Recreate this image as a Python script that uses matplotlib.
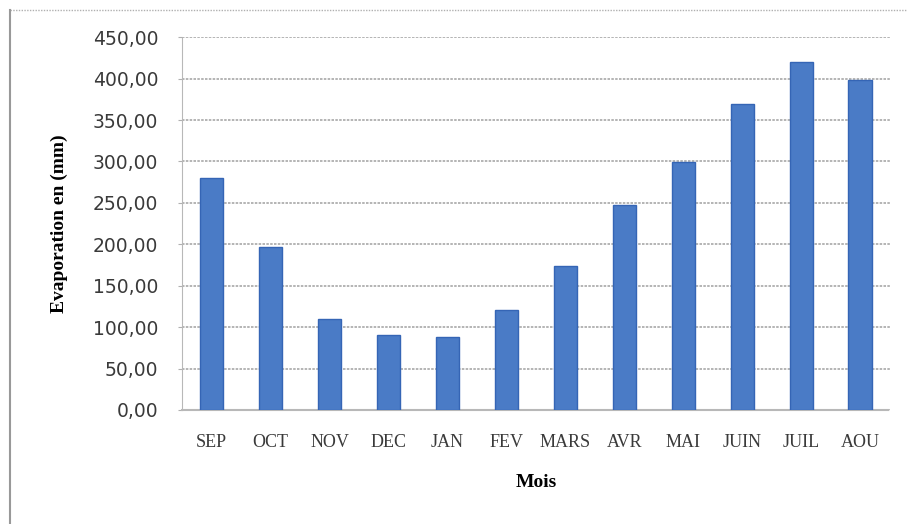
import matplotlib
matplotlib.use('Agg')
import matplotlib.pyplot as plt
from matplotlib.lines import Line2D

months = ['SEP', 'OCT', 'NOV', 'DEC', 'JAN', 'FEV', 'MARS', 'AVR', 'MAI', 'JUIN', 'JUIL', 'AOU']
evaporation = [280, 197, 110, 90, 88, 121, 174, 248, 299, 369, 420, 398]
yticks = [0, 50, 100, 150, 200, 250, 300, 350, 400, 450]

plt.rcParams['font.family'] = ['Liberation Serif', 'DejaVu Serif']

fig = plt.figure(figsize=(9.07, 5.24), dpi=100)
ax = fig.add_axes([0.2007, 0.2176, 0.7803, 0.7114])

x = range(len(months))
ax.bar(x, evaporation, width=0.4, color='#4a7bc6', edgecolor='#3565b5', linewidth=1.0, zorder=3)

ax.set_xlim(-0.5, len(months) - 0.5)
ax.set_ylim(0, 450)
ax.set_yticks(yticks)
ax.set_yticklabels(['%d,00' % v for v in yticks], fontsize=13.5, color='#3a3a3a',
                   family='DejaVu Sans')
ax.set_xticks(list(x))
ax.set_xticklabels(months, fontsize=13, color='#3a3a3a')
ax.tick_params(axis='x', length=0, pad=17)
ax.tick_params(axis='y', length=3, color='#b0b0b0', pad=14)

ax.grid(axis='y', color='#a8a8a8', linestyle=(0, (1.5, 0.8)), linewidth=1.2, zorder=0)
for side in ['top', 'right']:
    ax.spines[side].set_visible(False)
ax.spines['left'].set_color('#b8b8b8')
ax.spines['left'].set_linestyle((0, (1, 1)))
ax.spines['bottom'].set_color('#b8b8b8')
ax.spines['bottom'].set_linestyle((0, (1, 1)))
ax.spines['bottom'].set_linewidth(1.5)

ax.set_ylabel('Evaporation en (mm)', fontsize=14, fontweight='bold', labelpad=18)
ax.set_xlabel('Mois', fontsize=14, fontweight='bold', labelpad=17)

# outer frame: dotted top edge and solid left edge
fig.add_artist(Line2D([10 / 907, 1.0], [1 - 10 / 524, 1 - 10 / 524], color='#b0b0b0',
                      linestyle=(0, (1, 1)), linewidth=1.0))
fig.add_artist(Line2D([10 / 907, 10 / 907], [0, 1 - 10 / 524], color='#999999', linewidth=1.5))

fig.savefig('out.png', dpi=100)
